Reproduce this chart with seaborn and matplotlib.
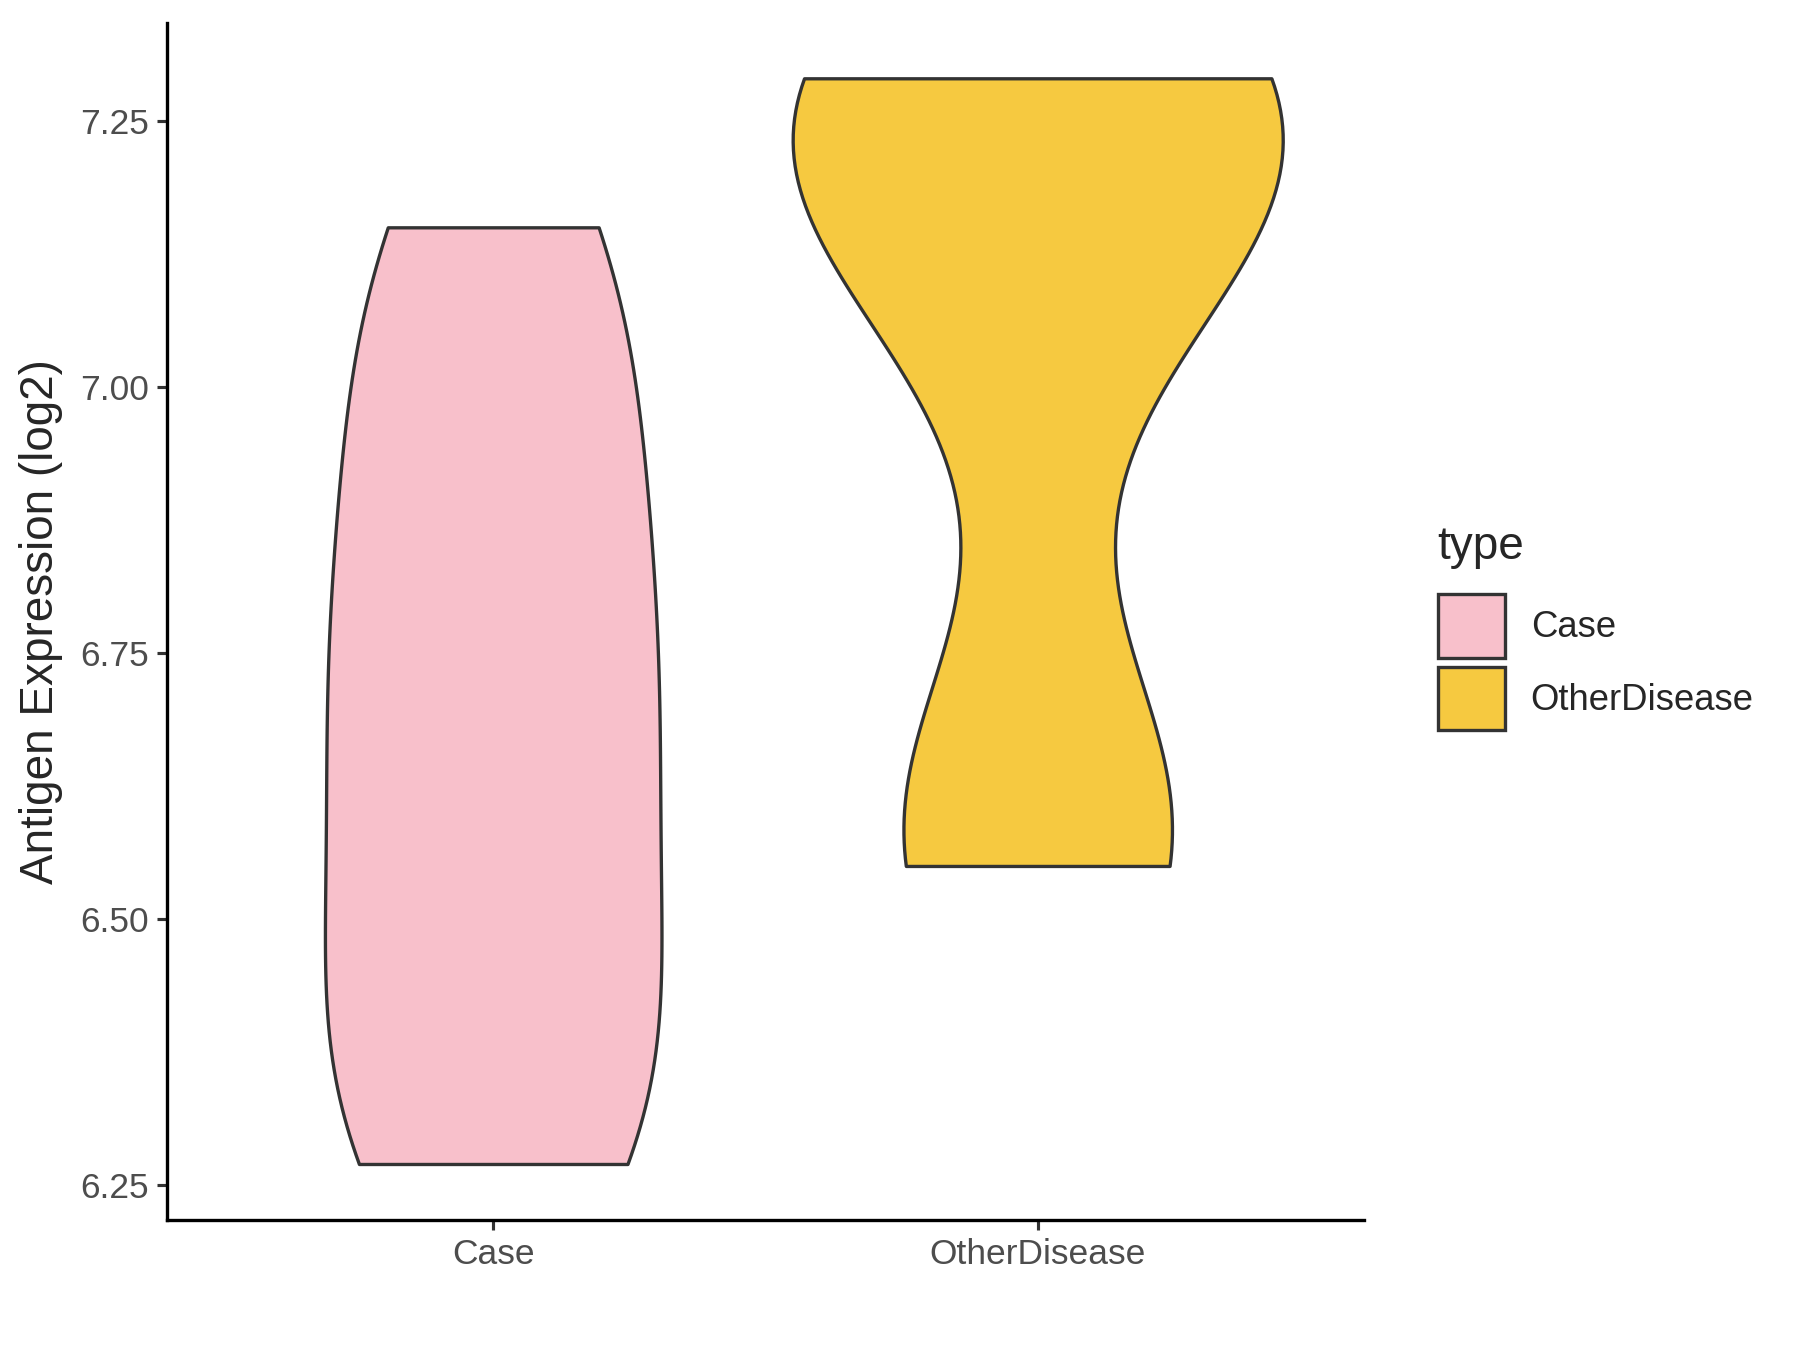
import numpy as np
import pandas as pd
import matplotlib
matplotlib.use("Agg")
import matplotlib.pyplot as plt
import seaborn as sns
from matplotlib.patches import Patch

sns.set_style("white")
plt.rcParams["font.family"] = ["Liberation Sans", "DejaVu Sans"]

# =========================
# DATA
# =========================
groups = ["Case", "OtherDisease"]
case_values = [6.27, 6.31, 6.43, 6.56, 6.68, 6.78, 6.90, 7.05, 7.15]
other_values = [6.55, 6.57, 6.62, 7.06, 7.18, 7.25, 7.27, 7.28, 7.29]
colors = ["#F8C0CB", "#F6C940"]
tick_vals = [6.25, 6.50, 6.75, 7.00, 7.25]

df = pd.DataFrame({
    "type": ["Case"] * len(case_values) + ["OtherDisease"] * len(other_values),
    "value": case_values + other_values,
})


# R style nrd0 bandwidth, given as a factor of the std for scipy
def nrd0(kde):
    x = kde.dataset.ravel()
    sd = x.std(ddof=1)
    q75, q25 = np.percentile(x, [75, 25])
    h = 0.9 * min(sd, (q75 - q25) / 1.34) * len(x) ** -0.2
    return h / sd


fig = plt.figure(figsize=(12, 9), dpi=150)
ax = fig.add_axes([0.0925, 0.096, 0.6655, 0.887])

# common_norm so that "area" compares both violins (groups have equal n)
sns.violinplot(data=df, x="type", y="value", hue="type", order=groups,
               palette=colors, saturation=1, cut=0, inner=None, width=0.9,
               density_norm="area", common_norm=True,
               bw_method=nrd0, bw_adjust=0.9,
               linewidth=1.6, linecolor="#333333", legend=False, ax=ax)

ax.set_xlim(-0.6, 1.6)
ax.set_ylim(6.217, 7.342)
ax.set_yticks(tick_vals)
ax.set_yticklabels([f"{v:.2f}" for v in tick_vals])
ax.set_xlabel("")
ax.set_ylabel("Antigen Expression (log2)", fontsize=22, labelpad=8)
ax.tick_params(axis="both", labelsize=17, labelcolor="#4d4d4d",
               length=5, width=1.5, color="#333333", left=True, bottom=True)
for side in ["top", "right"]:
    ax.spines[side].set_visible(False)
for side in ["left", "bottom"]:
    ax.spines[side].set_linewidth(1.6)
    ax.spines[side].set_color("black")

handles = [Patch(facecolor=c, edgecolor="#333333", linewidth=1.6, label=g)
           for g, c in zip(groups, colors)]
leg = fig.legend(handles=handles, title="type", loc="center left",
                 bbox_to_anchor=(0.7805, 0.535), frameon=False,
                 fontsize=17.5, title_fontsize=22, handlelength=1.85,
                 handleheight=2.3, handletextpad=0.7, labelspacing=0.25)
leg._legend_box.align = "left"
leg._legend_box.sep = 12

fig.savefig("out.png", dpi=150)
